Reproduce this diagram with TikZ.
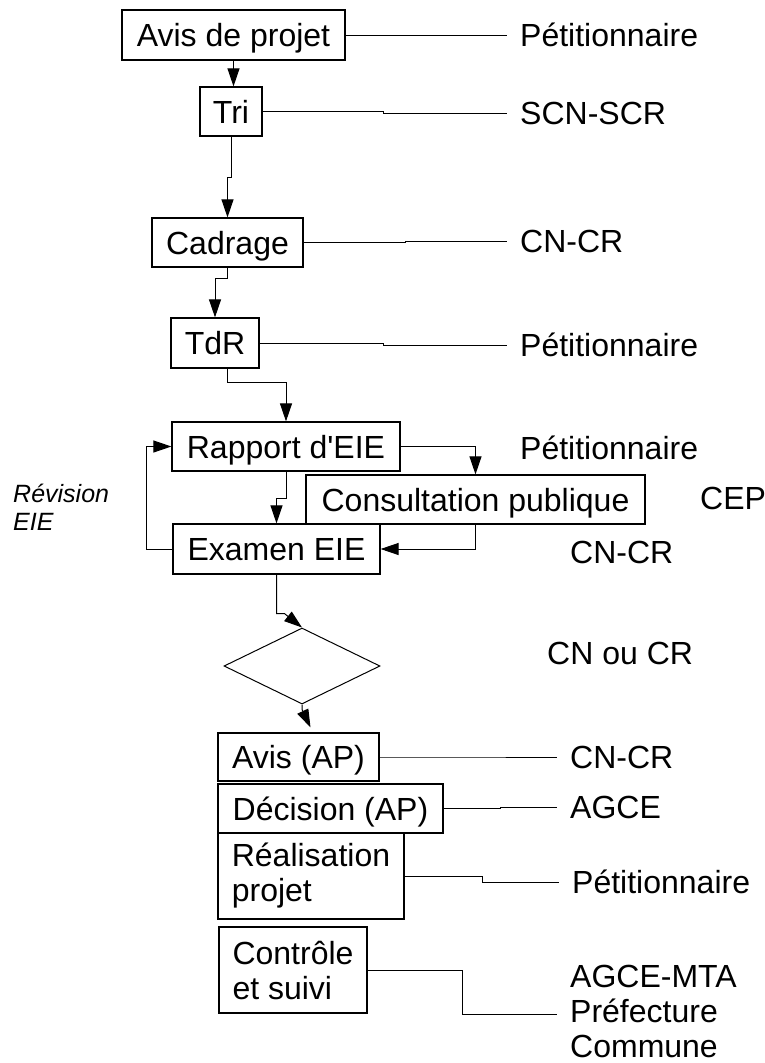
\documentclass[tikz,border=0pt]{standalone}
\usepackage{fontspec}
\setmainfont{Liberation Sans}[Ligatures=TeXOff]
\usetikzlibrary{arrows.meta,shapes.geometric}
\begin{document}
\begin{tikzpicture}[x=1pt,y=-1pt,
  txt/.style={font=\fontsize{32}{35}\selectfont},
  stage/.style={txt,draw,line width=1.2pt,inner sep=0pt,text height=23pt,text depth=0pt},
  stagetwo/.style={txt,draw,line width=1.2pt,inner sep=0pt,align=left},
  actorbase/.style={txt,anchor=west,inner xsep=13pt,inner ysep=0pt},
  actor/.style={actorbase,text height=23pt,text depth=0pt},
  link/.style={line width=1pt},
  flow/.style={line width=1pt,-{Triangle[length=18pt,width=12pt]}},
]
\useasboundingbox (0,0) rectangle (765,1063);

% process stages
\node[stage,minimum width=223pt,minimum height=50pt] (avis) at (233.5,35) {Avis de projet};
\node[stage,minimum width=62pt,minimum height=49pt] (tri) at (231,111.5) {Tri};
\node[stage,minimum width=151pt,minimum height=49pt] (cad) at (227.5,242.5) {Cadrage};
\node[stage,minimum width=88pt,minimum height=50pt] (tdr) at (215,343) {TdR};
\node[stage,minimum width=228pt,minimum height=49pt] (rap) at (286,446.5) {Rapport d'EIE};
\node[stage,minimum width=339pt,minimum height=49pt] (con) at (475.5,499.5) {Consultation publique};
\node[stage,minimum width=207pt,minimum height=50pt] (exa) at (276.5,549) {Examen EIE};
\node[diamond,draw,line width=1pt,minimum width=156pt,minimum height=76pt,inner sep=0pt] (dec) at (302,666) {};
\node[stage,minimum width=161pt,minimum height=48pt] (avp) at (298.5,757) {Avis (AP)};
\node[stage,minimum width=225pt,minimum height=49pt] (dcs) at (330.5,808.5) {Décision (AP)};
\node[stagetwo,minimum width=186pt,minimum height=86pt] (rea) at (311,876) {Réalisation\\projet};
\node[stagetwo,minimum width=148pt,minimum height=86pt] (ctl) at (293,970) {Contrôle\\et suivi};

% responsible bodies
\node[actor] (p1) at (507,35) {Pétitionnaire};
\node[actor] (scn) at (507,113) {SCN-SCR};
\node[actor] (cn1) at (507,241) {CN-CR};
\node[actor] (p2) at (507,345) {Pétitionnaire};
\node[actor] (p3) at (507,448) {Pétitionnaire};
\node[actor] (cep) at (687,498) {CEP};
\node[actor] (cn2) at (557,552) {CN-CR};
\node[actor] (cnou) at (534,653) {CN ou CR};
\node[actor] (cn3) at (557,757) {CN-CR};
\node[actor] (agce) at (557,807) {AGCE};
\node[actor] (p4) at (559,882) {Pétitionnaire};
\node[actorbase,align=left] (mta) at (557,1011) {AGCE-MTA\\Préfecture\\Commune};

\node[font=\fontsize{25}{28}\selectfont\itshape,align=left,anchor=west,inner sep=0pt] (rev) at (13,507) {Révision\\EIE};

% links to the bodies in charge
\draw[link] (avis.east) -- (p1.west);
\draw[link] (tri.east) -- ++(121,0) |- (scn.west);
\draw[link] (cad.east) -- ++(102,0) |- (cn1.west);
\draw[link] (tdr.east) -- ++(124,0) |- (p2.west);
\draw[link] (avp.east) -- ++(76,0) |- (cn3.west);
\draw[link] (dcs.east) -- ++(57,0) |- (agce.west);
\draw[link] (rea.east) -- ++(78,0) |- (p4.west);
\draw[link] (ctl.east) -- ++(95,0) |- ([yshift=-3pt]mta.west);

% procedure flow
\draw[flow] (avis.south) -- (avis.south |- tri.north);
\draw[flow] (tri.south) -- ++(0,41) -| (cad.north);
\draw[flow] (cad.south) -- ++(0,11) -| (tdr.north);
\draw[flow] ([xshift=12pt]tdr.south) -- ++(0,14) -| (rap.north);
\draw[flow] (rap.east) -| (con.north);
\draw[flow] (rap.south) -- ++(0,27) -| (exa.north);
\draw[flow] (con.south) |- (exa.east);
\draw[flow] (exa.west) -- ++(-26,0) |- (rap.west);
\draw[flow] (exa.south) -- ++(0,39) -- ++(8,0) -- (dec.north);
\draw[flow] (dec.south) -- ++(0,5) -- ([xshift=12pt,yshift=5pt]avp.north);
\end{tikzpicture}
\end{document}
